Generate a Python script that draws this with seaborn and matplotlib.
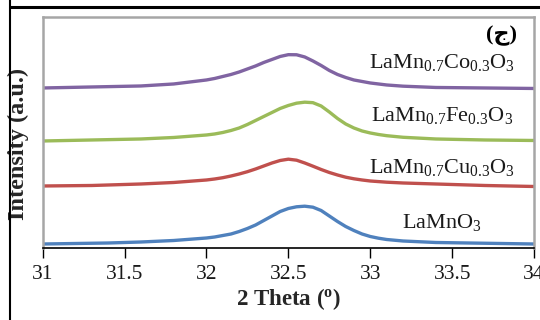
import matplotlib
matplotlib.use("Agg")
import matplotlib.pyplot as plt
import seaborn as sns
import pandas as pd
from matplotlib.lines import Line2D

sns.set_theme(style="white")
plt.rcParams['font.family'] = ['Liberation Serif', 'DejaVu Serif']
plt.rcParams['mathtext.default'] = 'regular'

# 2 Theta values and intensities (a.u., stacked)
theta_co = [31.0, 31.3, 31.6, 31.8, 32.0, 32.05, 32.1, 32.15, 32.2, 32.25, 32.3, 32.35, 32.4, 32.45, 32.5, 32.55, 32.6, 32.65, 32.7, 32.75, 32.8, 32.85, 32.9, 32.95, 33.0, 33.05, 33.1, 33.2, 33.4, 33.7, 34.0]
int_co = [162, 163, 164, 166, 170, 171.5, 173.5, 175.5, 178, 181, 184, 187.5, 190.5, 193.5, 195.3, 195.2, 193, 189, 184.5, 179.5, 175.5, 172.5, 170, 168.5, 167, 166, 165, 163.8, 162.5, 162, 161.5]

theta_fe = [31.0, 31.3, 31.6, 31.8, 32.0, 32.05, 32.1, 32.15, 32.2, 32.25, 32.3, 32.35, 32.4, 32.45, 32.5, 32.55, 32.6, 32.65, 32.7, 32.75, 32.8, 32.85, 32.9, 32.95, 33.0, 33.05, 33.1, 33.2, 33.4, 33.7, 34.0]
int_fe = [109, 110, 111, 112.5, 115, 116, 117.5, 119.5, 122, 125.5, 129.5, 133.5, 137.5, 141.5, 144.5, 146.8, 147.8, 147.3, 144, 138, 131.5, 126, 122, 119, 117, 115.5, 114.3, 112.7, 111, 110, 109.5]

theta_cu = [31.0, 31.3, 31.6, 31.8, 32.0, 32.05, 32.1, 32.15, 32.2, 32.25, 32.3, 32.35, 32.4, 32.45, 32.5, 32.55, 32.6, 32.65, 32.7, 32.75, 32.8, 32.85, 32.9, 32.95, 33.0, 33.1, 33.2, 33.4, 33.7, 34.0]
int_cu = [64, 64.5, 66, 67.5, 70, 71, 72.3, 74, 76, 78.3, 81, 84, 87, 89.5, 90.8, 89.8, 87, 83.8, 80.5, 77.5, 75, 72.8, 71.2, 70, 69, 67.8, 67, 66, 64.5, 63.5]

theta_la = [31.0, 31.2, 31.4, 31.6, 31.8, 32.0, 32.05, 32.1, 32.15, 32.2, 32.25, 32.3, 32.35, 32.4, 32.45, 32.5, 32.55, 32.6, 32.65, 32.7, 32.75, 32.8, 32.85, 32.9, 32.95, 33.0, 33.05, 33.1, 33.2, 33.4, 33.6, 33.8, 34.0]
int_la = [6, 6.5, 7, 8, 9.5, 12, 13, 14.5, 16, 18.5, 21.5, 25, 29.5, 34, 38.5, 41.5, 43.2, 43.8, 42.8, 39.5, 34, 28.5, 23.5, 19.5, 16, 13.5, 11.8, 10.5, 9, 7.5, 7, 6.5, 6]

sample_names = ['LaMn$_{0.7}$Co$_{0.3}$O$_3$', 'LaMn$_{0.7}$Fe$_{0.3}$O$_3$',
                'LaMn$_{0.7}$Cu$_{0.3}$O$_3$', 'LaMnO$_3$']
label_y = [187, 134, 82, 27]
colors = ['#8064A2', '#9BBB59', '#C0504D', '#4F81BD']
xticks = [31, 31.5, 32, 32.5, 33, 33.5, 34]
xtick_labels = ['31', '31.5', '32', '32.5', '33', '33.5', '34']

frames = []
for name, th, it in zip(sample_names, [theta_co, theta_fe, theta_cu, theta_la],
                        [int_co, int_fe, int_cu, int_la]):
    frames.append(pd.DataFrame({'theta': th, 'intensity': it, 'sample': name}))
df = pd.concat(frames, ignore_index=True)

fig = plt.figure(figsize=(5.4, 3.2), dpi=100)
ax = fig.add_axes([0.079, 0.225, 0.910, 0.722])

sns.lineplot(data=df, x='theta', y='intensity', hue='sample', hue_order=sample_names,
             palette=colors, linewidth=2.4, legend=False, ax=ax, sort=False,
             solid_joinstyle='round', solid_capstyle='round')

for name, ly, c in zip(sample_names, label_y, colors):
    ax.text(33.44, ly, name, ha='center', va='center', fontsize=16, color='#1a1a1a')
ax.text(33.8, 214, '(ج)', ha='center', va='center', fontsize=16, fontweight='bold',
        family=['Liberation Serif', 'DejaVu Sans'], color='black')

ax.set_xlim(31, 34)
ax.set_ylim(2, 233)
ax.set_xticks(xticks)
ax.set_xticklabels(xtick_labels, fontsize=15.5, color='#1a1a1a')
ax.set_yticks([])
ax.tick_params(axis='x', direction='out', length=7, width=1, color='black', pad=5, bottom=True)
ax.set_xlabel('2 Theta ($^{o}$)', fontsize=16.5, fontweight='bold', labelpad=2)
ax.set_ylabel('Intensity (a.u.)', fontsize=17.5, fontweight='bold')
ax.yaxis.set_label_coords(-0.028, 0.45)

for s in ['top', 'left', 'right']:
    ax.spines[s].set_color('#A6A6A6')
    ax.spines[s].set_linewidth(1.8)
ax.spines['bottom'].set_color('black')
ax.spines['bottom'].set_linewidth(1.2)
ax.axvline(31, ymin=0, ymax=0.1, color='black', linewidth=1.2)

# outer page frame lines
fig.add_artist(Line2D([10/540, 1], [1 - 7/320, 1 - 7/320], color='black', linewidth=2.2))
fig.add_artist(Line2D([10/540, 10/540], [0, 1], color='black', linewidth=1.5))

fig.savefig('out.png', dpi=100)
